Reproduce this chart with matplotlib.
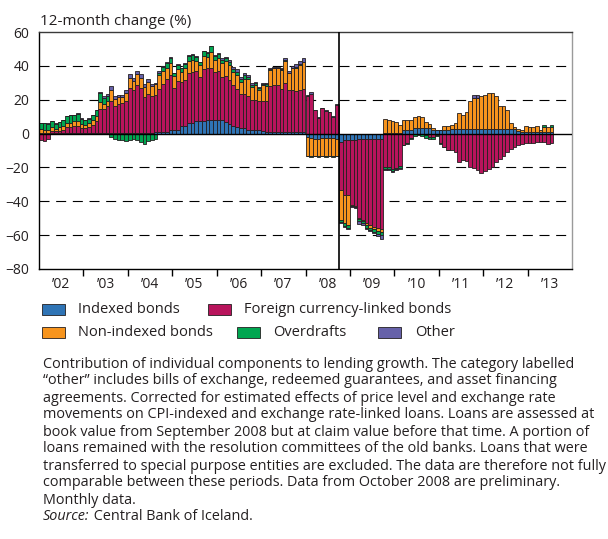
import numpy as np
import matplotlib
matplotlib.use("Agg")
import matplotlib.pyplot as plt
from matplotlib.patches import Rectangle

plt.rcParams['font.family'] = ['Open Sans', 'DejaVu Sans']

# Monthly contributions to 12-month lending growth (percentage points), Jan 2002 onward
start_year = 2002

indexed = [
    0.3, 0.3, 0.3, 0.3, 0.3, 0.3, 0.3, 0.3, 0.3, 0.3, 0.3, 0.3,
    0.3, 0.3, 0.3, 0.3, 0.5, 0.5, 0.5, 0.5, 0.5, 0.5, 0.5, 0.5,
    0.5, 0.5, 0.5, 0.5, 0.5, 0.5, 0.5, 1.0, 1.0, 1.0, 1.0, 2.0,
    2.0, 2.0, 4.5, 4.5, 6.0, 6.0, 7.5, 7.5, 7.5, 8.3, 8.3, 8.3,
    8.3, 8.3, 7.0, 5.6, 4.5, 4.0, 3.2, 3.0, 2.3, 2.3, 2.3, 2.3,
    1.5, 1.0, 0.8, 0.8, 0.8, 0.8, 0.8, 0.8, 0.8, 0.8, 0.8, 0.8,
    -2.0, -2.5, -3.0, -3.0, -2.5, -2.5, -2.5, -2.5, -3.0, -5.0, -4.0, -4.0,
    -4.0, -4.0, -3.5, -3.0, -3.5, -3.5, -3.5, -3.0, -3.0, 0.3, 0.3, 0.3,
    0.3, 0.3, 2.0, 2.0, 2.0, 3.5, 3.5, 3.5, 3.5, 3.5, 2.0, 2.0,
    2.0, 2.0, 2.0, 2.5, 2.5, 2.5, 2.5, 2.5, 2.5, 2.5, 2.5, 2.5,
    2.5, 2.5, 2.5, 2.5, 2.5, 2.5, 2.5, 2.5, 2.5, 1.5, 1.2, 1.2,
    1.2, 1.2, 1.2, 1.2, 1.2, 1.2, 1.2,
]
foreign = [
    -4.0, -4.2, -3.5, 1.0, 1.0, 1.5, 2.0, 3.5, 3.5, 4.0, 4.0, 3.0,
    3.0, 3.5, 4.5, 7.0, 14.0, 14.0, 15.5, 19.0, 16.0, 17.0, 17.5, 19.0,
    26.5, 25.5, 28.0, 26.5, 21.0, 23.0, 21.5, 22.0, 25.5, 28.0, 31.0, 32.5,
    25.0, 29.0, 26.0, 27.0, 30.0, 30.5, 29.5, 26.0, 30.5, 30.7, 30.7, 28.2,
    28.5, 25.4, 27.0, 25.9, 24.0, 22.5, 20.4, 20.5, 19.8, 17.4, 17.5, 16.7,
    17.9, 18.2, 27.5, 27.7, 27.7, 25.7, 29.2, 24.7, 24.7, 24.2, 24.7, 25.4,
    22.0, 23.5, 13.8, 9.3, 15.0, 13.6, 12.5, 10.0, 17.0, -28.5, -32.5, -32.5,
    -38.0, -39.0, -46.5, -48.0, -49.5, -50.5, -51.5, -52.5, -53.5, -20.0, -20.0, -21.0,
    -20.3, -19.2, -6.7, -5.7, -2.7, -0.3, -0.3, -0.5, -1.0, -2.0, -2.0, -1.0,
    -5.7, -7.8, -9.8, -10.0, -11.0, -17.0, -15.5, -16.0, -20.0, -20.5, -21.5, -23.0,
    -22.0, -21.0, -19.5, -17.0, -15.0, -13.0, -11.0, -9.0, -8.0, -7.0, -6.0, -5.5,
    -5.5, -5.5, -5.0, -5.0, -5.0, -6.0, -5.3,
]
non_indexed = [
    2.3, 2.0, 2.0, 2.5, 1.5, 2.0, 2.0, 2.5, 2.5, 3.0, 3.0, 2.5,
    2.0, 2.5, 3.0, 3.0, 4.0, 3.0, 3.5, 6.0, 4.0, 4.0, 3.5, 4.5,
    6.0, 5.0, 6.5, 6.0, 6.0, 7.0, 6.0, 6.0, 8.0, 8.0, 7.0, 7.0,
    7.0, 7.0, 6.0, 7.0, 7.0, 7.0, 6.0, 7.0, 8.0, 6.0, 9.0, 7.0,
    8.0, 8.0, 9.0, 9.0, 8.0, 8.0, 7.0, 9.0, 10.0, 8.0, 9.0, 7.0,
    9.0, 9.0, 9.0, 10.0, 10.0, 11.0, 13.0, 10.0, 13.0, 14.0, 15.0, 16.0,
    -11.0, -11.0, -10.0, -10.5, -10.5, -11.0, -10.5, -11.0, -10.0, -17.5, -16.5, -17.5,
    -0.5, -0.3, -0.5, -0.5, -1.0, -1.5, -1.5, -2.0, -1.5, 8.6, 8.0, 7.2,
    6.7, 4.7, 6.3, 5.9, 5.9, 6.0, 6.8, 6.4, 3.5, 2.0, 1.0, 0.4,
    0.2, 2.2, 2.3, 2.5, 3.5, 9.5, 8.5, 10.0, 17.0, 18.5, 18.5, 19.5,
    20.5, 21.5, 21.5, 19.5, 14.0, 13.5, 11.5, 3.5, 1.5, 1.0, 0.8, 3.1,
    2.4, 2.8, 3.1, 1.2, 2.8, 2.8, 2.8,
]
overdrafts = [
    3.5, 3.8, 3.5, 3.5, 3.0, 3.0, 3.5, 4.0, 4.5, 3.5, 4.5, 3.0,
    2.5, 2.5, 3.0, 3.5, 5.5, 3.5, 2.5, -2.0, -3.0, -4.0, -4.0, -4.5,
    -4.0, -3.5, -4.0, -5.0, -6.0, -4.5, -4.0, -3.0, 1.5, 2.5, 2.5, 3.0,
    1.5, 2.5, 2.0, 2.5, 3.0, 3.0, 2.5, 1.5, 2.5, 2.5, 3.5, 2.5,
    2.0, 2.0, 1.5, 1.5, 1.5, 2.0, 1.5, 2.0, 1.5, 1.0, 1.0, 0.8,
    0.8, 1.0, 0.8, 0.5, 0.5, 0.5, 0.5, 0.5, 0.5, 0.5, 0.5, 0.3,
    -0.5, -0.3, -0.5, -0.3, -0.3, -0.3, -0.3, -0.3, -0.3, -1.5, -1.5, -1.5,
    -0.5, -0.3, -1.0, -1.5, -2.0, -1.5, -1.5, -2.0, -2.0, -0.8, -0.9, -1.0,
    -0.9, -1.3, -0.3, -0.3, -0.3, -1.0, -0.7, -1.0, -1.5, -1.0, -1.0, -0.3,
    -0.3, -0.2, -0.2, 0.0, 0.0, 0.0, 0.0, 0.0, 0.0, 0.0, 0.0, 0.0,
    0.0, 0.0, 0.0, 0.0, 0.0, 0.0, 0.0, 0.0, 0.0, 0.0, 0.0, 0.0,
    0.0, 0.0, 0.0, 0.0, 1.0, 0.0, 1.0,
]
other = [
    0.3, 0.3, 0.3, 0.3, 0.3, 0.3, 0.3, 0.3, 0.3, 0.3, 0.3, 0.3,
    0.3, 0.3, 0.3, 0.3, 0.5, 1.0, 1.5, 2.5, 1.5, 1.5, 1.5, 1.5,
    2.0, 2.0, 2.0, 2.0, 1.5, 1.5, 1.0, 1.0, 1.0, 0.5, 0.5, 0.5,
    0.5, 0.5, 0.5, 0.5, 0.5, 0.5, 0.5, 0.5, 0.5, 0.5, 0.5, 0.5,
    0.7, 0.8, 1.0, 1.5, 1.5, 1.5, 1.5, 1.5, 1.0, 1.0, 0.8, 0.5,
    0.5, 0.5, 0.5, 0.5, 0.5, 0.5, 1.0, 1.0, 1.0, 1.5, 2.0, 2.0,
    0.7, 0.8, 0.3, 0.2, 0.4, 0.4, 0.3, 0.3, 0.4, -0.5, -0.8, -0.8,
    -0.3, -0.3, -2.0, -1.0, -0.5, -0.5, -1.0, -1.0, -2.0, -0.9, -0.8, -0.7,
    -0.5, -0.5, 0.0, 0.0, 0.0, 0.0, 0.0, 0.0, 0.0, 0.0, 0.0, 0.0,
    0.0, 0.0, 0.0, 0.0, 0.0, 0.0, 0.0, 0.0, 0.0, 1.5, 1.5, 0.0,
    0.0, 0.0, 0.0, 0.0, 0.0, 0.0, 0.0, 0.0, 0.0, 0.0, 0.0, 0.0,
    0.0, 0.0, 0.0, 0.0, 0.0, 0.0, 0.0,
]

series_names = ["Indexed bonds", "Foreign currency-linked bonds",
                "Non-indexed bonds", "Overdrafts", "Other"]
series_colors = ["#2f74b5", "#b8145c", "#f7941d", "#00a650", "#6661a9"]
year_labels = ["\u201902", "\u201903", "\u201904", "\u201905", "\u201906", "\u201907",
               "\u201908", "\u201909", "\u201910", "\u201911", "\u201912", "\u201913"]
y_ticks = [-80, -60, -40, -20, 0, 20, 40, 60]
grid_levels = [-60, -40, -20, 20, 40]
break_date = 2008.75  # start of the new banks' data (October 2008)

caption_lines = [
    "Contribution of individual components to lending growth. The category labelled",
    "\u201cother\u201d includes bills of exchange, redeemed guarantees, and asset financing",
    "agreements. Corrected for estimated effects of price level and exchange rate",
    "movements on CPI-indexed and exchange rate-linked loans. Loans are assessed at",
    "book value from September 2008 but at claim value before that time. A portion of",
    "loans remained with the resolution committees of the old banks. Loans that were",
    "transferred to special purpose entities are excluded. The data are therefore not fully",
    "comparable between these periods. Data from October 2008 are preliminary.",
    "Monthly data.",
]

TEXT = "#231f20"
EDGE = "#231f20"
W, H = 608, 539

fig = plt.figure(figsize=(W / 100, H / 100), dpi=100)
ax = fig.add_axes([39 / W, 1 - 269 / H, (572 - 39) / W, (269 - 32) / H])

n = len(indexed)
x = start_year + (np.arange(n) + 0.5) / 12
data = np.array([indexed, foreign, non_indexed, overdrafts, other], dtype=float)

# Positive and negative contributions are stacked separately from zero
pos_base = np.zeros(n)
neg_base = np.zeros(n)
for vals, col in zip(data, series_colors):
    pos = np.clip(vals, 0, None)
    neg = np.clip(vals, None, 0)
    m = pos > 0
    ax.bar(x[m], pos[m], width=1 / 12, bottom=pos_base[m], color=col,
           edgecolor=EDGE, linewidth=0.6, zorder=2)
    m = neg < 0
    ax.bar(x[m], neg[m], width=1 / 12, bottom=neg_base[m], color=col,
           edgecolor=EDGE, linewidth=0.6, zorder=2)
    pos_base += pos
    neg_base += neg

for lvl in grid_levels:
    ax.axhline(lvl, color="black", linewidth=0.8, dashes=(9, 6), zorder=1)
ax.axhline(0, color="black", linewidth=1.0, zorder=3)
ax.axvline(break_date, color="black", linewidth=1.2, zorder=3)

ax.set_xlim(start_year, start_year + len(year_labels))
ax.set_ylim(y_ticks[0], y_ticks[-1])
ax.set_yticks(y_ticks)
ax.tick_params(axis="y", length=0, pad=7, labelsize=10, labelcolor=TEXT)

ax.set_xticks(np.arange(start_year + 1, start_year + len(year_labels)))
ax.set_xticklabels([])
ax.set_xticks(start_year + np.arange(len(year_labels)) + 0.5, minor=True)
ax.set_xticklabels(year_labels, minor=True)
ax.tick_params(axis="x", which="major", direction="out", length=5, width=1, color="black")
ax.tick_params(axis="x", which="minor", length=0, pad=6, labelsize=10, labelcolor=TEXT)

for side in ("left", "bottom"):
    ax.spines[side].set_color("black")
    ax.spines[side].set_linewidth(1.0)
ax.spines["top"].set_color("#3a3a3a")
ax.spines["top"].set_linewidth(1.0)
ax.spines["right"].set_color("#9a9a9a")
ax.spines["right"].set_linewidth(1.0)

fig.text(40 / W, 1 - 25 / H, "12-month change (%)", fontsize=11, color=TEXT,
         ha="left", va="baseline")

# Legend laid out in two rows below the chart
legend_rows = [
    [(0, 42, 78), (1, 208, 244)],
    [(2, 42, 78), (3, 237, 273), (4, 378, 415)],
]
row_centers = [309.5, 332]
for row, yc in zip(legend_rows, row_centers):
    for idx, px, tx in row:
        fig.add_artist(Rectangle((px / W, 1 - (yc + 5.5) / H), 23 / W, 11 / H,
                                 transform=fig.transFigure, facecolor=series_colors[idx],
                                 edgecolor=EDGE, linewidth=0.6))
        fig.text(tx / W, 1 - yc / H, series_names[idx], fontsize=10.5, color=TEXT,
                 ha="left", va="center")

cap_size = 10.4
line_y0 = 364
line_step = 17
for i, line in enumerate(caption_lines):
    fig.text(43 / W, 1 - (line_y0 + i * line_step) / H, line, fontsize=cap_size,
             color=TEXT, ha="left", va="center")
src = fig.text(43 / W, 1 - (line_y0 + len(caption_lines) * line_step) / H, "Source:",
               fontsize=cap_size, color=TEXT, ha="left", va="center", style="italic")
ax.annotate(" Central Bank of Iceland.", xy=(1, 0.5), xycoords=src,
            ha="left", va="center", fontsize=cap_size, color=TEXT, annotation_clip=False)

fig.savefig("out.png", dpi=100)
